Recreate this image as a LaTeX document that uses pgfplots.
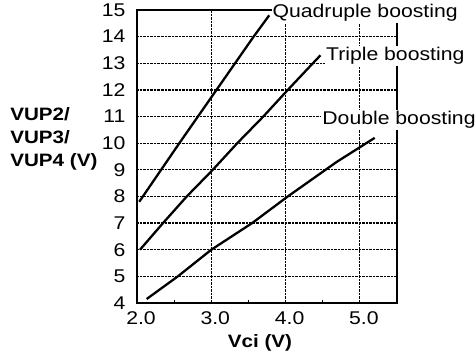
\documentclass[border=0pt]{standalone}
\usepackage{fontspec}
\setmainfont{Liberation Sans}[FakeStretch=1.15]
\usepackage{pgfplots}
\pgfplotsset{compat=1.18}
\usetikzlibrary{calc}
\begin{document}
\begin{tikzpicture}
\begin{axis}[
  scale only axis,
  width=260bp, height=293bp,
  xmin=2, xmax=5.5, ymin=4, ymax=15,
  xtick={2,3,4,5},
  ytick={4,5,...,15},
  minor xtick={2.5,3.5,4.5},
  grid=major,
  major grid style={black, densely dotted, line width=1.2pt},
  minor grid style={draw=none},
  axis line style={black, line width=1.8pt},
  tick style={black, line width=1pt},
  major tick length=0pt,
  minor tick length=3pt,
  tick align=inside,
  xtick pos=bottom, ytick pos=left,
  /pgf/number format/assume math mode=true,
  xticklabel style={/pgf/number format/fixed, /pgf/number format/fixed zerofill, /pgf/number format/precision=1, font=\fontsize{18.5}{20}\selectfont, yshift=-5bp, xshift=4bp},
  yticklabel style={font=\fontsize{18.5}{20}\selectfont, xshift=-8bp},
  xlabel={\bfseries Vci (V)},
  xlabel style={font=\fontsize{18}{20}\selectfont, at={(axis description cs:0.473,-0.137)}, anchor=center},
  ylabel={\bfseries VUP2/\\\bfseries VUP3/\\\bfseries VUP4 (V)},
  ylabel style={font=\fontsize{18}{23}\selectfont, rotate=-90, align=left, at={(axis description cs:-0.488,0.56)}, anchor=west, inner sep=0pt},
  clip=false,
]
\addplot[black, line width=2.3pt] coordinates {(2.03,7.8) (2.3,8.9) (2.57,10.0) (2.82,11.0) (3.07,12.0) (3.32,13.0) (3.57,14.0) (3.78,14.8)};
\addplot[black, line width=2.3pt] coordinates {(2.04,6.0) (2.35,7.0) (2.67,8.0) (3.02,9.0) (3.35,10.0) (3.7,11.0) (4.03,12.0) (4.3,12.8) (4.47,13.3)};
\addplot[black, line width=2.3pt] coordinates {(2.13,4.15) (2.55,5.0) (3.0,6.0) (3.55,7.0) (4.03,8.0) (4.69,9.3) (5.2,10.2)};
\node[anchor=west, fill=white, inner sep=1pt, font=\fontsize{18.5}{20}\selectfont] at (axis cs:3.81,14.89) {Quadruple boosting};
\node[anchor=west, fill=white, inner sep=1pt, font=\fontsize{18.5}{20}\selectfont] at (axis cs:4.53,13.27) {Triple boosting};
\node[anchor=west, fill=white, inner sep=1pt, font=\fontsize{18.5}{20}\selectfont] at (axis cs:4.48,10.87) {Double boosting};
\end{axis}
\pgfresetboundingbox
\path[use as bounding box] ($(current axis.south west)+(-137bp,-55bp)$) rectangle ($(current axis.north east)+(79bp,10bp)$);
\end{tikzpicture}
\end{document}
